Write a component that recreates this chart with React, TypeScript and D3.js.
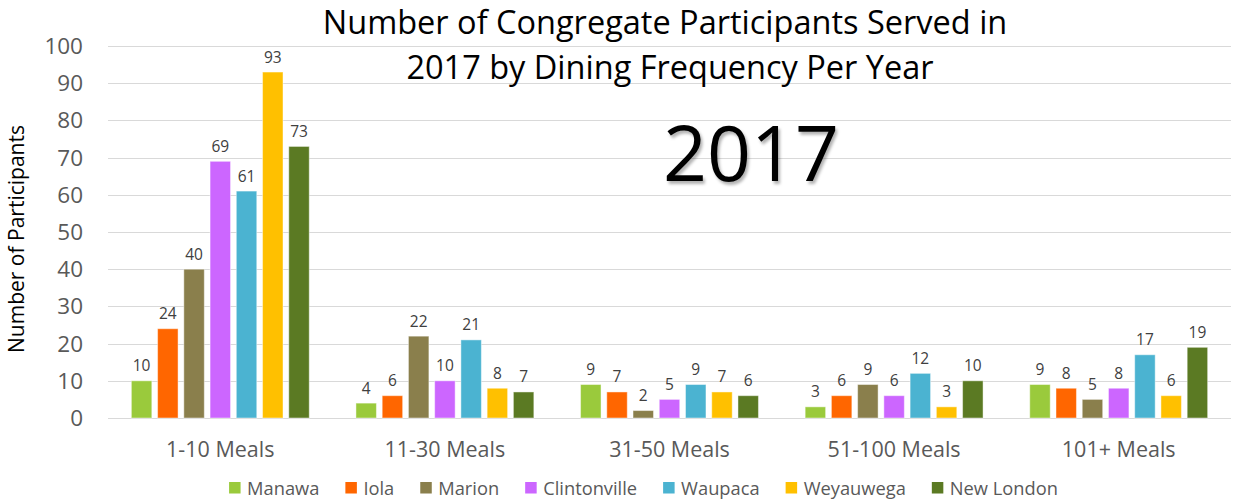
import React, { useEffect, useRef } from "react";
import * as d3 from "d3";

const width = 1235;
const height = 502;
const margin = { top: 46, right: 4, bottom: 84, left: 108 };

const categories = ["1-10 Meals", "11-30 Meals", "31-50 Meals", "51-100 Meals", "101+ Meals"];
const towns = ["Manawa", "Iola", "Marion", "Clintonville", "Waupaca", "Weyauwega", "New London"];
const colors = ["#9ACA3C", "#FF6600", "#8A7F4C", "#CC66FF", "#4BB3D1", "#FFC000", "#5B7A23"];

// participants per town, one entry per category
const manawa = [10, 4, 9, 3, 9];
const iola = [24, 6, 7, 6, 8];
const marion = [40, 22, 2, 9, 5];
const clintonville = [69, 10, 5, 6, 8];
const waupaca = [61, 21, 9, 12, 17];
const weyauwega = [93, 8, 7, 3, 6];
const newLondon = [73, 7, 6, 10, 19];
const series = [manawa, iola, marion, clintonville, waupaca, weyauwega, newLondon];

const yTicks = [0, 10, 20, 30, 40, 50, 60, 70, 80, 90, 100];
const titleLines = ["Number of Congregate Participants Served in", "2017 by Dining Frequency Per Year"];

const font = "'Open Sans', sans-serif";

const App = () => {
  const ref = useRef<SVGSVGElement>(null);

  useEffect(() => {
    const svg = d3.select(ref.current);
    svg.selectAll("*").remove();

    const x0 = d3.scaleBand().domain(categories).range([margin.left, width - margin.right]);
    const x1 = d3
      .scaleBand()
      .domain(towns)
      .range([0, x0.bandwidth()])
      .paddingInner(0.22)
      .paddingOuter(0.89);
    const y = d3.scaleLinear([0, 100], [height - margin.bottom, margin.top]);

    const defs = svg.append("defs");
    const shadow = defs
      .append("filter")
      .attr("id", "shadow")
      .attr("x", "-10%")
      .attr("y", "-10%")
      .attr("width", "130%")
      .attr("height", "140%");
    shadow
      .append("feDropShadow")
      .attr("dx", 2)
      .attr("dy", 3)
      .attr("stdDeviation", 1.5)
      .attr("flood-color", "#000")
      .attr("flood-opacity", 0.3);

    // gridlines
    svg
      .append("g")
      .selectAll("line")
      .data(yTicks)
      .join("line")
      .attr("x1", margin.left)
      .attr("x2", width - margin.right)
      .attr("y1", (d) => Math.round(y(d)) + 0.5)
      .attr("y2", (d) => Math.round(y(d)) + 0.5)
      .attr("stroke", "#D9D9D9")
      .attr("stroke-width", 1);

    // y tick labels
    svg
      .append("g")
      .selectAll("text")
      .data(yTicks)
      .join("text")
      .attr("x", 83)
      .attr("y", (d) => y(d) + 8)
      .attr("text-anchor", "end")
      .attr("font-family", font)
      .attr("font-size", 22.5)
      .attr("fill", "#595959")
      .text((d) => d);

    // y axis title
    svg
      .append("text")
      .attr("transform", `translate(24,${(y(0) + y(100)) / 2 + 7}) rotate(-90)`)
      .attr("text-anchor", "middle")
      .attr("font-family", font)
      .attr("font-size", 21)
      .attr("fill", "#000")
      .text("Number of Participants");

    // bars
    const groups = svg
      .append("g")
      .selectAll("g")
      .data(series)
      .join("g")
      .attr("fill", (_, i) => colors[i]);

    const cells = (vals: number[], i: number) =>
      vals.map((v, j) => ({ v, cat: categories[j], town: towns[i] }));

    groups
      .selectAll("rect")
      .data(cells)
      .join("rect")
      .attr("x", (d) => (x0(d.cat) as number) + (x1(d.town) as number))
      .attr("y", (d) => y(d.v))
      .attr("width", x1.bandwidth())
      .attr("height", (d) => y(0) - y(d.v))
      .attr("stroke", "#ffffff")
      .attr("stroke-opacity", 0.45)
      .attr("stroke-width", 1);

    groups
      .selectAll("text")
      .data(cells)
      .join("text")
      .attr("x", (d) => (x0(d.cat) as number) + (x1(d.town) as number) + x1.bandwidth() / 2)
      .attr("y", (d) => y(d.v) - 9.5)
      .attr("text-anchor", "middle")
      .attr("font-family", font)
      .attr("font-size", 15.5)
      .attr("fill", "#404040")
      .text((d) => d.v);

    // category labels
    svg
      .append("g")
      .selectAll("text")
      .data(categories)
      .join("text")
      .attr("x", (d) => (x0(d) as number) + x0.bandwidth() / 2)
      .attr("y", 457)
      .attr("text-anchor", "middle")
      .attr("font-family", font)
      .attr("font-size", 21.5)
      .attr("fill", "#595959")
      .text((d) => d);

    // title
    svg
      .append("g")
      .selectAll("text")
      .data(titleLines)
      .join("text")
      .attr("x", (_, i) => (i === 0 ? 665 : 670))
      .attr("y", (_, i) => 34 + i * 45)
      .attr("text-anchor", "middle")
      .attr("font-family", font)
      .attr("font-size", 32.5)
      .attr("fill", "#000")
      .text((d) => d);

    // big year stamp
    svg
      .append("text")
      .attr("x", 751)
      .attr("y", 181)
      .attr("text-anchor", "middle")
      .attr("font-family", font)
      .attr("font-size", 77)
      .attr("fill", "#000")
      .attr("filter", "url(#shadow)")
      .text("2017");

    // legend, measured then centred
    const legend = svg.append("g");
    const items = legend.selectAll("g").data(towns).join("g");
    items
      .append("rect")
      .attr("width", 11.5)
      .attr("height", 11.5)
      .attr("y", -6)
      .attr("fill", (_, i) => colors[i]);
    items
      .append("text")
      .attr("x", 18)
      .attr("y", 6.5)
      .attr("font-family", font)
      .attr("font-size", 18.3)
      .attr("fill", "#595959")
      .text((d) => d);
    let cursor = 0;
    items.each(function () {
      const t = d3.select(this).select("text").node() as SVGTextElement;
      d3.select(this).attr("transform", `translate(${cursor},0)`);
      cursor += 18 + t.getComputedTextLength() + 26;
    });
    const total = cursor - 26;
    legend.attr("transform", `translate(${643.5 - total / 2},488)`);
  }, []);

  return (
    <svg
      ref={ref}
      width={width}
      height={height}
      style={{ display: "block", position: "absolute", left: 0, top: 0 }}
    />
  );
};

export default App;
